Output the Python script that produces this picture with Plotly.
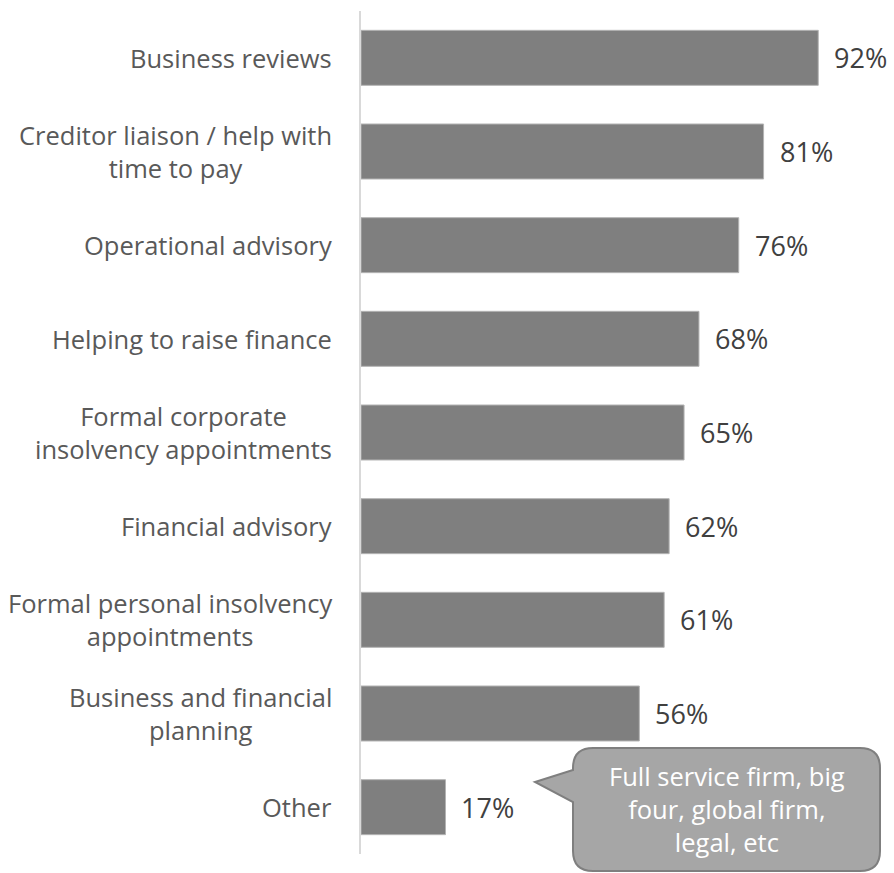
import plotly.graph_objects as go

# Services offered, top to bottom
categories = [
    "Business reviews",
    "Creditor liaison / help with<br>time to pay",
    "Operational advisory",
    "Helping to raise finance",
    "Formal corporate<br>insolvency appointments",
    "Financial advisory",
    "Formal personal insolvency<br>appointments",
    "Business and financial<br>planning",
    "Other",
]
shares = [92, 81, 76, 68, 65, 62, 61, 56, 17]
value_labels = [f"{v}%" for v in shares]
callout_text = "Full service firm, big<br>four, global firm,<br>legal, etc"

W, H = 894, 873
L, R, T, B = 361, 36, 11, 19
PW, PH = W - L - R, H - T - B

BAR = "#7f7f7f"
LABEL = "#595959"
VALUE = "#404040"
FONT = "Open Sans, Calibri, sans-serif"

ids = list(range(len(categories)))

fig = go.Figure(
    go.Bar(
        x=shares,
        y=ids,
        orientation="h",
        marker=dict(color=BAR, line=dict(color="#b3b3b3", width=1)),
        hoverinfo="skip",
    )
)

annotations = []
for i, (cat, v, lab) in enumerate(zip(categories, shares, value_labels)):
    annotations.append(dict(
        x=0, xref="paper", y=i, yref="y", text=cat, showarrow=False,
        xanchor="right", yanchor="middle", align="center", xshift=-27,
        font=dict(family=FONT, size=25.5, color=LABEL),
    ))
    annotations.append(dict(
        x=v, xref="x", y=i, yref="y", text=lab, showarrow=False,
        xanchor="left", yanchor="middle", xshift=14,
        font=dict(family=FONT, size=27, color=VALUE),
    ))


def px(x):
    return (x - L) / PW


def py(y):
    return 1 - (y - T) / PH


# Speech-bubble callout pointing at the "Other" bar
x0, x1, y0, y1, r = 573, 880, 748, 871, 20
tip = (535, 782)
pts = [
    f"M {px(x0 + r)},{py(y0)}",
    f"L {px(x1 - r)},{py(y0)}",
    f"Q {px(x1)},{py(y0)} {px(x1)},{py(y0 + r)}",
    f"L {px(x1)},{py(y1 - r)}",
    f"Q {px(x1)},{py(y1)} {px(x1 - r)},{py(y1)}",
    f"L {px(x0 + r)},{py(y1)}",
    f"Q {px(x0)},{py(y1)} {px(x0)},{py(y1 - r)}",
    f"L {px(x0)},{py(802)}",
    f"L {px(tip[0])},{py(tip[1])}",
    f"L {px(x0)},{py(770)}",
    f"L {px(x0)},{py(y0 + r)}",
    f"Q {px(x0)},{py(y0)} {px(x0 + r)},{py(y0)}",
    "Z",
]
shapes = [dict(
    type="path", xref="paper", yref="paper", path=" ".join(pts),
    fillcolor="#a6a6a6", line=dict(color="#7f7f7f", width=2), layer="above",
)]
annotations.append(dict(
    x=px((x0 + x1) / 2), xref="paper", y=py((y0 + y1) / 2 - 1), yref="paper",
    text=callout_text, showarrow=False, xanchor="center", yanchor="middle",
    align="center", font=dict(family=FONT, size=25.5, color="white"),
))

fig.update_layout(
    width=W, height=H,
    margin=dict(l=L, r=R, t=T, b=B, pad=0),
    paper_bgcolor="white", plot_bgcolor="white",
    bargap=0.413,
    showlegend=False,
    xaxis=dict(range=[0, 100], visible=False, fixedrange=True),
    yaxis=dict(
        range=[len(categories) - 0.5, -0.5],
        showticklabels=False, showgrid=False, zeroline=False,
        showline=True, linecolor="#d9d9d9", linewidth=2, ticks="",
        fixedrange=True,
    ),
    annotations=annotations,
    shapes=shapes,
)

fig.write_html("out.html")
